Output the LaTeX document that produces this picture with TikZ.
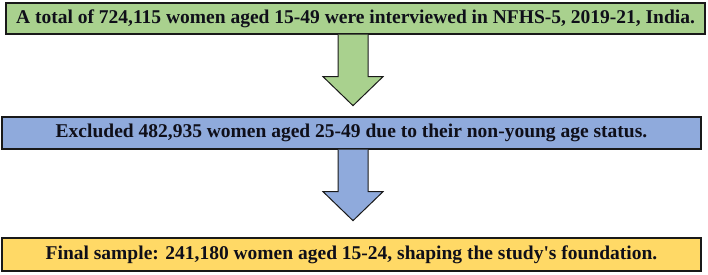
\documentclass[tikz,border=0pt]{standalone}
\usepackage{fontspec}
\setmainfont{Liberation Serif}[Ligatures=TeXOff]
\usetikzlibrary{positioning, calc}
\definecolor{boxgreen}{RGB}{169,209,142}
\definecolor{boxblue}{RGB}{143,170,220}
\definecolor{boxyellow}{RGB}{255,217,102}
\definecolor{boxline}{RGB}{25,25,25}
\definecolor{boxtext}{RGB}{15,15,25}
\tikzset{
  stagebox/.style={rectangle, draw=boxline, line width=1.3pt,
    minimum width=699pt, inner sep=0pt, text=boxtext,
    font=\bfseries\fontsize{19.5}{22}\selectfont},
  downarrow/.style={draw=boxline, line width=1pt, line join=miter}
}

\begin{document}
\begin{tikzpicture}[x=1pt, y=-1pt]
  \useasboundingbox (0,0) rectangle (708,274);
  % Stage boxes
  \node[stagebox, fill=boxgreen, minimum height=31pt] (total) at (355.5,18.5)
    {A total of 724,115 women aged 15-49 were interviewed in NFHS-5, 2019-21, India.};
  \node[stagebox, fill=boxblue, minimum height=32pt] (excluded) at (351.5,133)
    {Excluded 482,935 women aged 25-49 due to their non-young age status.};
  \node[stagebox, fill=boxyellow, minimum height=33pt] (final) at (351.5,254.5)
    {Final sample: 241,180 women aged 15-24, shaping the study's foundation.};
  % Block arrows hanging below each box
  \coordinate (arrA) at (353,0 |- total.south);
  \coordinate (arrB) at (353,0 |- excluded.south);
  \filldraw[downarrow, fill=boxgreen] ($(arrA)+(-15,0)$) -- ++(0,42) -- ++(-15,0)
    -- ++(30,29) -- ++(30,-29) -- ++(-15,0) -- ++(0,-42);
  \filldraw[downarrow, fill=boxblue] ($(arrB)+(-15,0)$) -- ++(0,42) -- ++(-15,0)
    -- ++(30,29) -- ++(30,-29) -- ++(-15,0) -- ++(0,-42);
\end{tikzpicture}
\end{document}
